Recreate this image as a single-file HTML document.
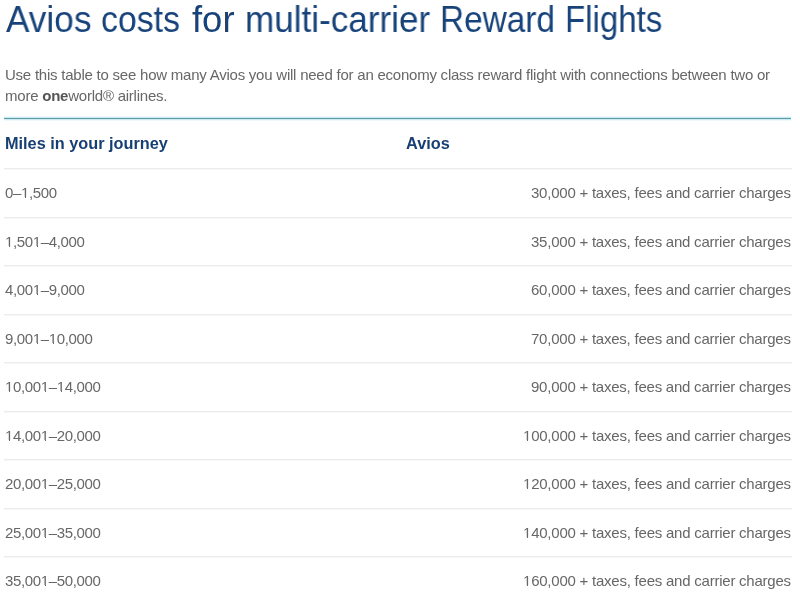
<!DOCTYPE html>
<html><head><meta charset="utf-8">
<style>
html,body{margin:0;padding:0;background:#fff;}
body{-webkit-font-smoothing:antialiased;width:800px;height:599px;overflow:hidden;position:relative;font-family:"Liberation Sans",sans-serif;}
.t{position:absolute;white-space:nowrap;line-height:1;will-change:transform;}
.tw{top:2px;font-size:36px;color:#18437a;transform-origin:0 0;}
.p{left:5px;font-size:15px;letter-spacing:-0.23px;color:#676767;}
.p b{color:#555;}
.rule{position:absolute;left:4px;width:787px;height:1px;background:#5f9aa6;box-shadow:0 -1px 0 #cdecf2,0 1px 0 #cdecf2,0 -2px 0 #eef9fb,0 2px 0 #eef9fb;}
.hd{font-size:16.3px;font-weight:bold;color:#183f72;}
.sep{position:absolute;left:4px;width:788px;height:1px;background:#ececec;box-shadow:0 1px 0 #f7f7f7;}
.c1{left:5px;font-size:15px;letter-spacing:-0.35px;color:#676767;}
.c2{right:9px;font-size:15px;letter-spacing:-0.23px;color:#676767;}
i{font-style:normal;position:relative;}
i::before,i::after{content:"";position:absolute;bottom:3.18px;height:1.3px;background:#fff;}
i::before{left:0.4px;width:3.35px;}
i::after{left:5.12px;width:3.1px;}
#wrap{position:absolute;left:0;top:0;width:800px;height:599px;background:#fff;}
</style></head><body><div id="wrap">
<div class="t tw" style="left:5.60px;transform:scaleX(0.9779)">Avios</div>
<div class="t tw" style="left:101.46px;transform:scaleX(0.9402)">costs</div>
<div class="t tw" style="left:191.50px;transform:scaleX(1.0119)">for</div>
<div class="t tw" style="left:244.55px;transform:scaleX(0.9745)">multi-carrier</div>
<div class="t tw" style="left:439.62px;transform:scaleX(0.9269)">Reward</div>
<div class="t tw" style="left:564.65px;transform:scaleX(0.9176)">Flights</div>

<div class="t p" style="top:67px">Use this table to see how many Avios you will need for an economy class reward flight with connections between two or</div>
<div class="t p" style="top:87.6px">more <b>one</b>world® airlines.</div>
<div class="rule" style="top:118px"></div>
<div class="t hd" style="left:5px;top:135px">Miles in your journey</div>
<div class="t hd" style="left:406px;top:135px">Avios</div>
<div class="sep" style="top:168px"></div>
<div class="t c1" style="top:185.00px">0–<i>1</i>,500</div>
<div class="t c2" style="top:185.00px">30,000 + taxes, fees and carrier charges</div>
<div class="sep" style="top:217px"></div>
<div class="t c1" style="top:234.00px"><i>1</i>,50<i>1</i>–4,000</div>
<div class="t c2" style="top:234.00px">35,000 + taxes, fees and carrier charges</div>
<div class="sep" style="top:265px"></div>
<div class="t c1" style="top:282.00px">4,00<i>1</i>–9,000</div>
<div class="t c2" style="top:282.00px">60,000 + taxes, fees and carrier charges</div>
<div class="sep" style="top:314px"></div>
<div class="t c1" style="top:331.00px">9,00<i>1</i>–<i>1</i>0,000</div>
<div class="t c2" style="top:331.00px">70,000 + taxes, fees and carrier charges</div>
<div class="sep" style="top:362px"></div>
<div class="t c1" style="top:379.00px"><i>1</i>0,00<i>1</i>–<i>1</i>4,000</div>
<div class="t c2" style="top:379.00px">90,000 + taxes, fees and carrier charges</div>
<div class="sep" style="top:411px"></div>
<div class="t c1" style="top:428.00px"><i>1</i>4,00<i>1</i>–20,000</div>
<div class="t c2" style="top:428.00px"><i>1</i>00,000 + taxes, fees and carrier charges</div>
<div class="sep" style="top:459px"></div>
<div class="t c1" style="top:476.00px">20,00<i>1</i>–25,000</div>
<div class="t c2" style="top:476.00px"><i>1</i>20,000 + taxes, fees and carrier charges</div>
<div class="sep" style="top:508px"></div>
<div class="t c1" style="top:525.00px">25,00<i>1</i>–35,000</div>
<div class="t c2" style="top:525.00px"><i>1</i>40,000 + taxes, fees and carrier charges</div>
<div class="sep" style="top:556px"></div>
<div class="t c1" style="top:573.00px">35,00<i>1</i>–50,000</div>
<div class="t c2" style="top:573.00px"><i>1</i>60,000 + taxes, fees and carrier charges</div>
</div></body></html>
